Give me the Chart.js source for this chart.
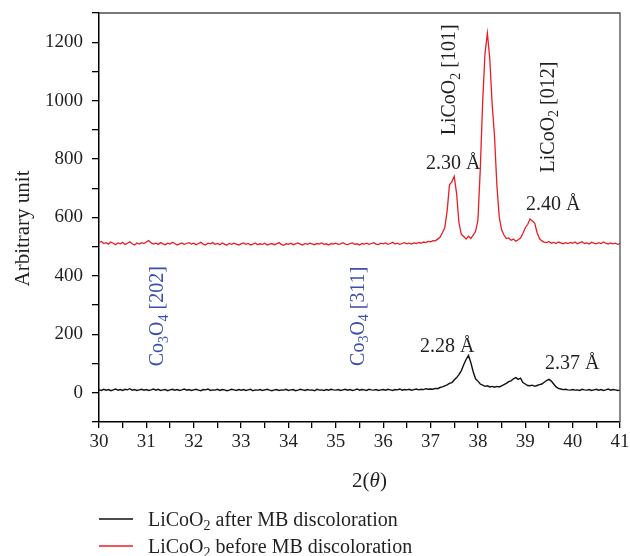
<!DOCTYPE html>
<html>
<head>
<meta charset="utf-8">
<script src="https://cdn.jsdelivr.net/npm/chart.js@4.4.1/dist/chart.umd.min.js"></script>
<style>
  html, body { margin: 0; padding: 0; background: #fff; }
  #wrap { width: 630px; height: 556px; position: relative; }
</style>
</head>
<body>
<div id="wrap"><canvas id="c" width="630" height="556"></canvas></div>
<script>
// ---- data (2θ scan, 30°–41°, step 0.05°) ----
const scanStart = 30, scanStep = 0.05, scanCount = 221;
const twoTheta = Array.from({length: scanCount}, (_, i) => +(scanStart + i * scanStep).toFixed(2));

// LiCoO2 before MB discoloration (red)
const beforeCounts = [
  515,518,511,514,509,516,512,507,513,510,515,508,512,517,510,506,513,509,514,511,
  516,521,513,509,512,508,514,510,507,512,509,515,511,506,510,513,508,511,514,509,
  512,507,511,515,509,506,512,510,514,508,511,507,513,509,505,511,508,512,509,506,
  510,513,508,511,506,509,513,507,510,508,512,506,509,511,507,510,514,508,505,510,
  508,512,507,510,513,509,506,511,508,512,510,507,511,509,513,508,510,506,511,509,
  512,508,510,514,509,507,511,513,508,510,506,511,509,512,508,511,514,509,507,512,
  510,513,508,511,515,509,512,508,511,514,510,512,509,513,511,515,512,516,514,518,
  517,521,520,526,532,548,565,622,712,722,741,682,582,542,535,526,536,528,540,552,
  590,765,995,1162,1231,1145,990,880,712,602,558,540,528,530,522,526,519,524,530,545,
  565,576,595,588,580,548,528,520,516,514,518,512,515,511,516,513,510,514,511,515,
  512,516,510,514,517,511,513,509,515,512,510,514,511,516,512,509,513,510,512,508,511
];

// LiCoO2 after MB discoloration (black)
const afterCounts = [
  10,8,12,9,11,7,10,13,9,11,8,12,10,14,9,11,8,10,12,9,
  11,8,10,13,9,12,8,10,11,7,10,12,9,11,8,10,13,9,11,8,
  10,12,9,7,11,10,13,8,10,9,12,8,11,10,7,9,12,10,8,11,
  9,11,8,10,12,7,10,9,11,8,10,12,9,7,10,11,8,10,9,12,
  8,10,11,7,9,12,10,8,11,9,10,7,12,9,10,8,11,9,12,10,
  9,11,8,10,12,9,11,8,10,13,9,11,10,8,12,10,9,11,8,10,
  11,9,12,10,8,11,10,13,9,11,10,12,9,11,13,10,12,11,14,12,
  13,12,15,14,18,20,24,27,32,35,44,52,62,76,96,114,128,104,72,48,
  40,30,26,22,24,20,22,19,22,20,24,28,32,38,41,48,52,46,50,35,
  30,25,24,26,22,25,28,30,36,42,46,40,30,20,15,13,11,12,10,9,
  11,9,10,8,12,10,9,11,8,10,12,9,11,8,10,13,9,11,10,8,9
];

const seriesNames = ['LiCoO2 after MB discoloration', 'LiCoO2 before MB discoloration'];
const xTickLabels = [30,31,32,33,34,35,36,37,38,39,40,41];
const yTickLabels = [0,200,400,600,800,1000,1200];

// ---- styling ----
const SERIF = "'Liberation Serif', 'DejaVu Serif', serif";
const TEXT = '#231f20';
const BLUE = '#3a4fae';
const RED = '#ed1c24';

// Text annotations (data coordinates)
const annotations = [
  {parts: [['LiCoO'], ['2', 'sub'], [' [101]']], x: 37.38, y: 1071, rot: -90, color: TEXT},
  {parts: [['2.30 Å']], x: 37.48, y: 790, rot: 0, color: TEXT},
  {parts: [['LiCoO'], ['2', 'sub'], [' [012]']], x: 39.46, y: 944, rot: -90, color: TEXT},
  {parts: [['2.40 Å']], x: 39.59, y: 649, rot: 0, color: TEXT},
  {parts: [['2.28 Å']], x: 37.35, y: 162, rot: 0, color: TEXT},
  {parts: [['2.37 Å']], x: 39.99, y: 104, rot: 0, color: TEXT},
  {parts: [['Co'], ['3', 'sub'], ['O'], ['4', 'sub'], [' [202]']], x: 31.22, y: 262, rot: -90, color: BLUE},
  {parts: [['Co'], ['3', 'sub'], ['O'], ['4', 'sub'], [' [311]']], x: 35.45, y: 262, rot: -90, color: BLUE}
];

function fontFor(style, size) {
  if (style === 'sub') return `${Math.round(size * 0.68)}px ${SERIF}`;
  if (style === 'i') return `italic ${size}px ${SERIF}`;
  return `${size}px ${SERIF}`;
}

function drawRich(ctx, parts, cx, cy, size, color, rot, align) {
  ctx.save();
  ctx.translate(cx, cy);
  ctx.rotate((rot || 0) * Math.PI / 180);
  let total = 0;
  const widths = parts.map(p => {
    ctx.font = fontFor(p[1], size);
    const w = ctx.measureText(p[0]).width;
    total += w;
    return w;
  });
  let x = align === 'left' ? 0 : -total / 2;
  ctx.fillStyle = color;
  ctx.textAlign = 'left';
  ctx.textBaseline = 'alphabetic';
  const base = size * 0.33;
  parts.forEach((p, i) => {
    ctx.font = fontFor(p[1], size);
    const dy = p[1] === 'sub' ? base + size * 0.22 : base;
    ctx.fillText(p[0], x, dy);
    x += widths[i];
  });
  ctx.restore();
}

const textPlugin = {
  id: 'textPlugin',
  afterDraw(chart) {
    const ctx = chart.ctx;
    const {left, right, top, bottom} = chart.chartArea;
    // top and right frame
    ctx.save();
    ctx.strokeStyle = '#4d4d4d';
    ctx.lineWidth = 1.3;
    ctx.beginPath();
    ctx.moveTo(left, top);
    ctx.lineTo(right, top);
    ctx.lineTo(right, bottom);
    ctx.stroke();
    ctx.restore();

    const xs = chart.scales.x, ys = chart.scales.y;
    annotations.forEach(a => {
      drawRich(ctx, a.parts, xs.getPixelForValue(a.x), ys.getPixelForValue(a.y), 20, a.color, a.rot, 'center');
    });

    // axis titles
    drawRich(ctx, [['Arbitrary unit']], 22, (top + bottom) / 2 + 11, 21, TEXT, -90, 'center');
    drawRich(ctx, [['2('], ['θ', 'i'], [')']], (left + right) / 2 + 10, 480, 21, TEXT, 0, 'center');

    // legend
    const legendRows = [
      {color: chart.data.datasets[0].borderColor, y: 519, parts: [['LiCoO'], ['2', 'sub'], [' after MB discoloration']]},
      {color: chart.data.datasets[1].borderColor, y: 546, parts: [['LiCoO'], ['2', 'sub'], [' before MB discoloration']]}
    ];
    legendRows.forEach(r => {
      ctx.save();
      ctx.strokeStyle = r.color;
      ctx.lineWidth = 1.5;
      ctx.beginPath();
      ctx.moveTo(99, r.y);
      ctx.lineTo(133, r.y);
      ctx.stroke();
      ctx.restore();
      drawRich(ctx, r.parts, 148, r.y, 20, TEXT, 0, 'left');
    });
  }
};

const toPoints = arr => arr.map((v, i) => ({x: twoTheta[i], y: v}));

new Chart(document.getElementById('c'), {
  type: 'line',
  data: {
    datasets: [
      {label: seriesNames[0], data: toPoints(afterCounts), borderColor: '#111111', borderWidth: 1.4, pointRadius: 0, tension: 0},
      {label: seriesNames[1], data: toPoints(beforeCounts), borderColor: RED, borderWidth: 1.3, pointRadius: 0, tension: 0}
    ]
  },
  options: {
    responsive: false,
    animation: false,
    events: [],
    layout: {padding: {top: 13, right: 10, left: 0, bottom: 0}},
    plugins: {legend: {display: false}, tooltip: {enabled: false}},
    scales: {
      x: {
        type: 'linear', min: 30, max: 41,
        ticks: {
          stepSize: 0.5, autoSkip: false, maxRotation: 0, padding: 3,
          color: TEXT, font: {family: SERIF, size: 19},
          callback: v => xTickLabels.includes(v) ? String(v) : ''
        },
        grid: {drawOnChartArea: false, drawTicks: true, tickLength: 6, color: '#000', lineWidth: 1.3},
        border: {color: '#000', width: 1.5},
        afterFit: s => { s.height = 134; s.paddingLeft = 0; s.paddingRight = 0; }
      },
      y: {
        type: 'linear', min: -100, max: 1300,
        ticks: {
          stepSize: 100, autoSkip: false, padding: 9,
          color: TEXT, font: {family: SERIF, size: 19},
          callback: v => yTickLabels.includes(v) ? String(v) : ''
        },
        grid: {drawOnChartArea: false, drawTicks: true, tickLength: 7, color: '#000', lineWidth: 1.3},
        border: {color: '#000', width: 1.5},
        afterFit: s => { s.width = 99; s.paddingTop = 0; s.paddingBottom = 0; }
      }
    }
  },
  plugins: [textPlugin]
});
</script>
</body>
</html>
